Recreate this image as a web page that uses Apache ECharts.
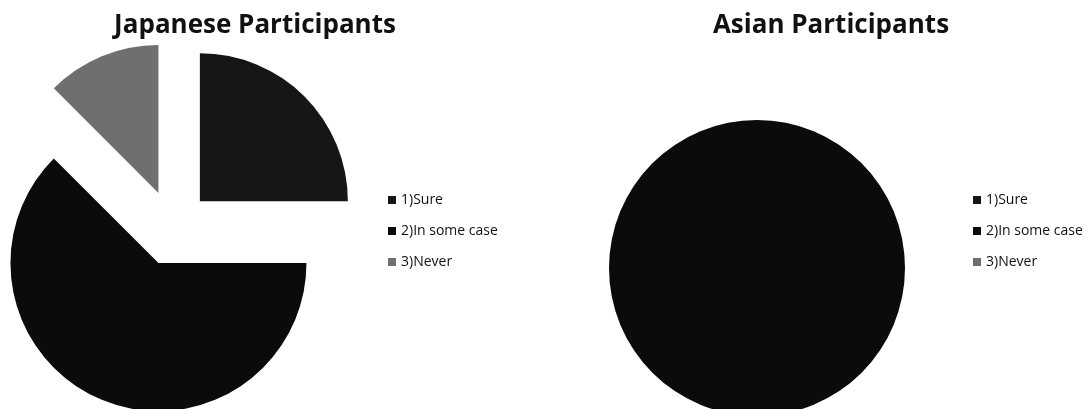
<!DOCTYPE html>
<html>
<head>
<meta charset="utf-8">
<script src="https://cdn.jsdelivr.net/npm/echarts@6/dist/echarts.min.js"></script>
<style>
    html, body { margin: 0; padding: 0; background: #fff; }
    #J_pies { width: 1091px; height: 409px; }
</style>
</head>
<body>
<div id="J_pies"></div>
<script>
var categories = ['1)Sure', '2)In some case', '3)Never'];
var japaneseValues = [2, 5, 1];
var asianValues = [0, 6, 0];
var chartTitles = ['Japanese Participants', 'Asian Participants'];
var sliceColors = ['#161616', '#0b0b0b', '#6f6f6f'];

function pieData(values) {
    var out = [];
    for (var i = 0; i < values.length; i++) {
        out.push({
            name: categories[i],
            value: values[i],
            selected: values[i] > 0
        });
    }
    return out;
}

function legendAt(left) {
    return {
        orient: 'vertical',
        left: left,
        top: 193,
        padding: 0,
        icon: 'rect',
        itemWidth: 8,
        itemHeight: 8,
        itemGap: 17,
        selectedMode: false,
        data: categories,
        textStyle: {
            color: '#111',
            fontFamily: 'Open Sans',
            fontSize: 14,
            lineHeight: 14
        }
    };
}

function pieSeries(center, values) {
    return {
        type: 'pie',
        center: center,
        radius: 148,
        startAngle: 90,
        clockwise: true,
        selectedMode: 'multiple',
        selectedOffset: 38,
        avoidLabelOverlap: false,
        label: { show: false },
        labelLine: { show: false },
        emphasis: { disabled: true },
        itemStyle: { borderWidth: 0 },
        data: pieData(values)
    };
}

var myChart = echarts.init(document.getElementById('J_pies'));

var titleStyle = { color: '#111', fontFamily: 'Open Sans', fontWeight: 'bold', fontSize: 26 };

var option = {
    backgroundColor: '#fff',
    animation: false,
    color: sliceColors,
    title: [{
        text: chartTitles[0],
        left: 250,
        top: 8,
        textAlign: 'center',
        textStyle: titleStyle
    }, {
        text: chartTitles[1],
        left: 826,
        top: 8,
        textAlign: 'center',
        textStyle: titleStyle
    }],
    legend: [legendAt(388), legendAt(973)],
    series: [
        pieSeries([173, 228], japaneseValues),
        pieSeries([757, 230], asianValues)
    ]
};

myChart.setOption(option);
</script>
</body>
</html>
